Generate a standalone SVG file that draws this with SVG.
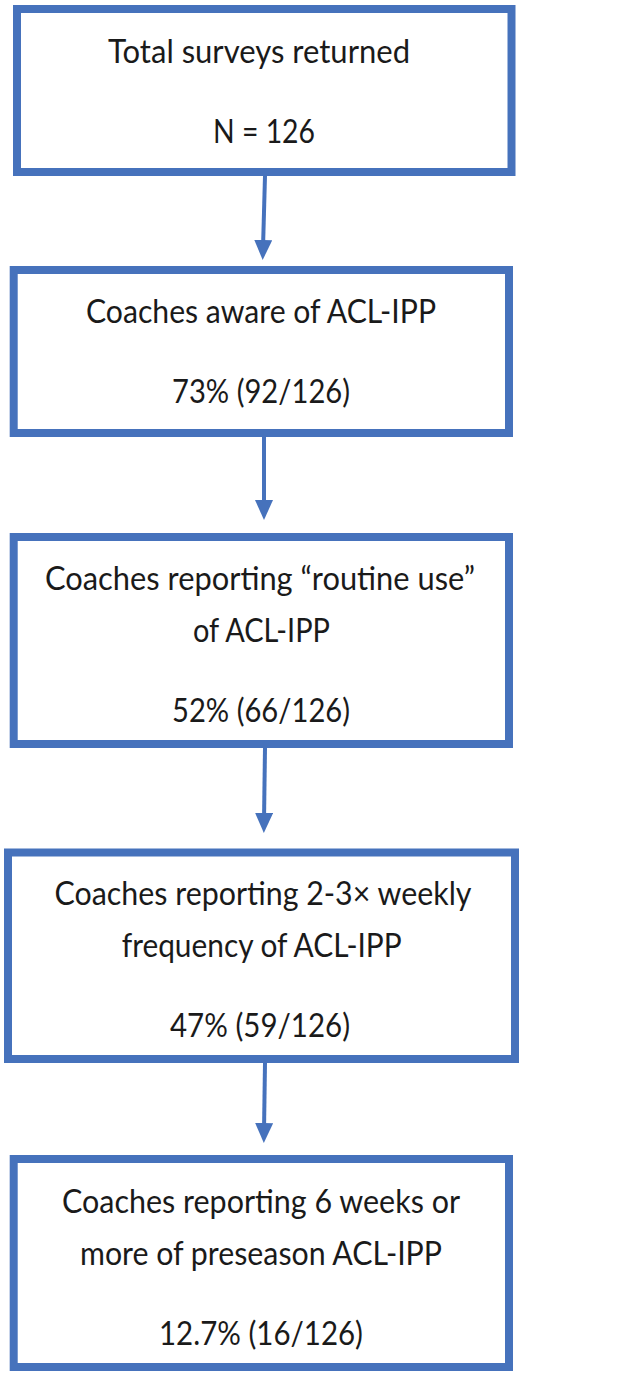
<svg xmlns="http://www.w3.org/2000/svg" width="620" height="1377" viewBox="0 0 620 1377">
  <style>
    .box { fill: #ffffff; stroke: #4672BC; stroke-width: 8; }
    .conn { stroke: #4672BC; stroke-width: 4; fill: none; }
    .t { font-family: Lato, "Liberation Sans", sans-serif; font-size: 33.5px; fill: #1a1a1a; text-anchor: middle; }
  </style>
  <defs>
    <marker id="ah" markerUnits="userSpaceOnUse" markerWidth="22" markerHeight="20" refX="8" refY="9" orient="auto">
      <path d="M0,0 L20,9 L0,18 Z" fill="#4672BC"/>
    </marker>
  </defs>
  <rect width="620" height="1377" fill="#ffffff"/>
  <g id="connectors">
    <line class="conn" x1="265" y1="176" x2="263" y2="248" marker-end="url(#ah)"/>
    <line class="conn" x1="264" y1="437" x2="264" y2="508" marker-end="url(#ah)"/>
    <line class="conn" x1="265" y1="748" x2="264" y2="821" marker-end="url(#ah)"/>
    <line class="conn" x1="265" y1="1063" x2="264" y2="1131" marker-end="url(#ah)"/>
  </g>
  <g id="node1">
    <rect class="box" x="17" y="9" width="494.5" height="163"/>
    <text class="t" x="259" y="63" textLength="302" lengthAdjust="spacingAndGlyphs">Total surveys returned</text>
    <text class="t" x="264" y="143" textLength="102" lengthAdjust="spacingAndGlyphs">N = 126</text>
  </g>
  <g id="node2">
    <rect class="box" x="13.7" y="270" width="495.3" height="163"/>
    <text class="t" x="261" y="323" textLength="350" lengthAdjust="spacingAndGlyphs">Coaches aware of ACL-IPP</text>
    <text class="t" x="261" y="403" textLength="178" lengthAdjust="spacingAndGlyphs">73% (92/126)</text>
  </g>
  <g id="node3">
    <rect class="box" x="13.7" y="537" width="495.3" height="207"/>
    <text class="t" x="260" y="590" textLength="430" lengthAdjust="spacingAndGlyphs">Coaches reporting “routine use”</text>
    <text class="t" x="261.5" y="642" textLength="137" lengthAdjust="spacingAndGlyphs">of ACL-IPP</text>
    <text class="t" x="261" y="722" textLength="178" lengthAdjust="spacingAndGlyphs">52% (66/126)</text>
  </g>
  <g id="node4">
    <rect class="box" x="8" y="852.5" width="507" height="206.5"/>
    <text class="t" x="263" y="905" textLength="417" lengthAdjust="spacingAndGlyphs">Coaches reporting 2-3× weekly</text>
    <text class="t" x="261.7" y="957" textLength="280" lengthAdjust="spacingAndGlyphs">frequency of ACL-IPP</text>
    <text class="t" x="260" y="1037" textLength="180" lengthAdjust="spacingAndGlyphs">47% (59/126)</text>
  </g>
  <g id="node5">
    <rect class="box" x="13.7" y="1159" width="495.3" height="208"/>
    <text class="t" x="261" y="1213" textLength="398" lengthAdjust="spacingAndGlyphs">Coaches reporting 6 weeks or</text>
    <text class="t" x="261" y="1265" textLength="362" lengthAdjust="spacingAndGlyphs">more of preseason ACL-IPP</text>
    <text class="t" x="261" y="1345" textLength="204" lengthAdjust="spacingAndGlyphs">12.7% (16/126)</text>
  </g>
</svg>
